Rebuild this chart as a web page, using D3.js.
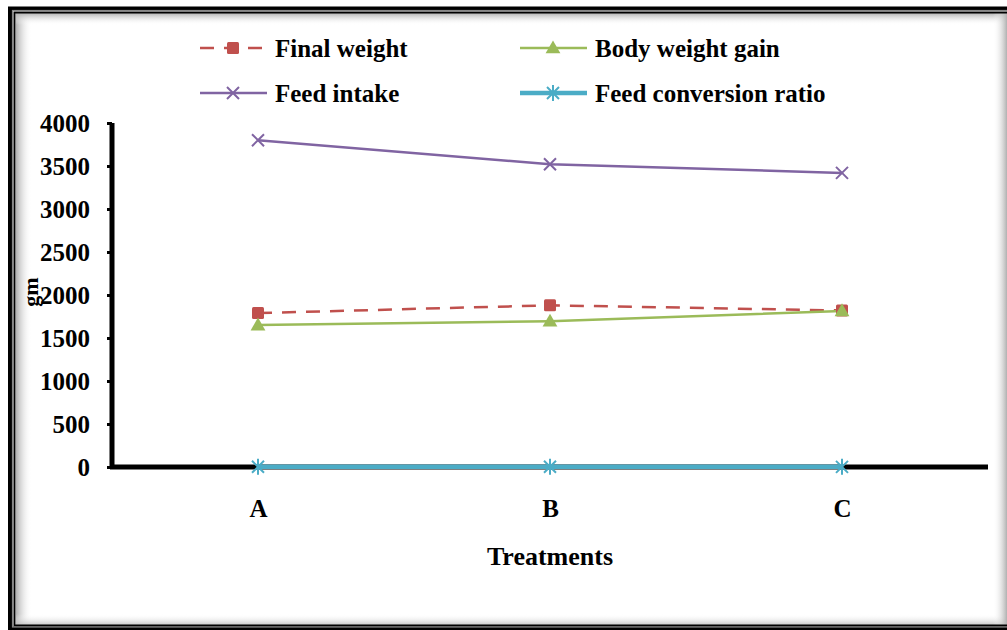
<!DOCTYPE html>
<html>
<head>
<meta charset="utf-8">
<script src="https://cdn.jsdelivr.net/npm/d3@7"></script>
<style>
  body { margin: 0; background: #fff; }
  text { font-family: "Liberation Serif", "Times New Roman", serif; font-weight: bold; fill: #000; }
</style>
</head>
<body>
<div class="chart"></div>
<script>
// treatment groups and the four measured series (gm)
var treatments = ["A", "B", "C"];
var finalWeight = [1790, 1880, 1820];
var bodyWeightGain = [1650, 1695, 1815];
var feedIntake = [3800, 3520, 3420];
var feedConversion = [2.2, 2.1, 1.9];
var yTicks = [0, 500, 1000, 1500, 2000, 2500, 3000, 3500, 4000];

var W = 1007, H = 630;

var svg = d3.select(".chart").append("svg")
  .attr("width", W)
  .attr("height", H);

var defs = svg.append("defs");
function shade(id, x1, y1, x2, y2) {
  var g = defs.append("linearGradient").attr("id", id)
    .attr("x1", x1).attr("y1", y1).attr("x2", x2).attr("y2", y2);
  g.append("stop").attr("offset", "0%").attr("stop-color", "#b0b0b0");
  g.append("stop").attr("offset", "100%").attr("stop-color", "#fff").attr("stop-opacity", 0);
}
shade("shL", 0, 0, 1, 0);
shade("shT", 0, 0, 0, 1);
shade("shB", 0, 1, 0, 0);
shade("shR", 1, 0, 0, 0);

// frame with soft inner shadow
svg.append("rect").attr("x", 16).attr("y", 13).attr("width", 16).attr("height", 612).attr("fill", "url(#shL)");
svg.append("rect").attr("x", 16).attr("y", 13).attr("width", 991).attr("height", 12).attr("fill", "url(#shT)");
svg.append("rect").attr("x", 16).attr("y", 614).attr("width", 991).attr("height", 13).attr("fill", "url(#shB)");
svg.append("rect").attr("x", 993).attr("y", 13).attr("width", 14).attr("height", 614).attr("fill", "url(#shR)");

svg.append("rect").attr("x", 10).attr("y", 8.5).attr("width", 1010).attr("height", 620)
  .attr("fill", "none").attr("stroke", "#000").attr("stroke-width", 4);
svg.append("rect").attr("x", 14.5).attr("y", 12.5).attr("width", 1010).attr("height", 613)
  .attr("fill", "none").attr("stroke", "#000").attr("stroke-width", 2);
svg.append("rect").attr("x", 12.5).attr("y", 10.5).attr("width", 1010).attr("height", 616.5)
  .attr("fill", "none").attr("stroke", "#888").attr("stroke-width", 1.2);

var x = d3.scalePoint().domain(treatments).range([112, 988]).padding(0.5);
var y = d3.scaleLinear().domain([0, 4000]).range([467, 123]);

// y axis
var yAxis = svg.append("g").attr("transform", "translate(112,0)")
  .call(d3.axisLeft(y).tickValues(yTicks).tickFormat(d3.format("d")).tickSize(5).tickPadding(17));
yAxis.select(".domain").attr("stroke-width", 5).attr("d", "M0,123V467");
yAxis.selectAll(".tick line").attr("stroke-width", 3);
yAxis.selectAll(".tick text").style("font-size", "25px").attr("dy", "0.35em");

// x axis
var xAxis = svg.append("g").attr("transform", "translate(0,467)")
  .call(d3.axisBottom(x).tickSize(0).tickPadding(32));
xAxis.select(".domain").attr("stroke-width", 5).attr("d", "M110,0H988");
xAxis.selectAll(".tick text").style("font-size", "25px");

svg.append("text").attr("x", 550).attr("y", 565).attr("text-anchor", "middle")
  .style("font-size", "26px").text("Treatments");
svg.append("text").attr("transform", "translate(38,292) rotate(-90)").attr("text-anchor", "middle")
  .style("font-size", "22px").text("gm");

// marker drawers
function square(g, cx, cy, c) {
  g.append("rect").attr("x", cx - 6).attr("y", cy - 6).attr("width", 12).attr("height", 12)
    .attr("rx", 1.5).attr("fill", c);
}
function triangle(g, cx, cy, c) {
  g.append("path").attr("d", d3.symbol(d3.symbolTriangle, 95)()).attr("transform", "translate(" + cx + "," + (cy + 1) + ")")
    .attr("fill", c);
}
function cross(g, cx, cy, c) {
  g.append("path").attr("d", "M-6,-6L6,6M-6,6L6,-6").attr("transform", "translate(" + cx + "," + cy + ")")
    .attr("stroke", c).attr("stroke-width", 2).attr("fill", "none");
}
function star(g, cx, cy, c) {
  g.append("path").attr("d", "M-6,-6L6,6M-6,6L6,-6M0,-8V8").attr("transform", "translate(" + cx + "," + cy + ")")
    .attr("stroke", c).attr("stroke-width", 2).attr("fill", "none");
}

var series = [
  {name: "Final weight", values: finalWeight, color: "#C0504D", width: 2.5, dash: "14,10", mark: square},
  {name: "Body weight gain", values: bodyWeightGain, color: "#9BBB59", width: 2.5, dash: null, mark: triangle},
  {name: "Feed intake", values: feedIntake, color: "#8064A2", width: 2.5, dash: null, mark: cross},
  {name: "Feed conversion ratio", values: feedConversion, color: "#4BACC6", width: 4.5, dash: null, mark: star}
];

var line = d3.line().x(function(d, i) { return x(treatments[i]); }).y(function(d) { return y(d); });

var plot = svg.append("g");
series.forEach(function(s) {
  plot.append("path").datum(s.values)
    .attr("d", line)
    .attr("fill", "none")
    .attr("stroke", s.color)
    .attr("stroke-width", s.width)
    .attr("stroke-dasharray", s.dash);
});
series.forEach(function(s) {
  s.values.forEach(function(v, i) { s.mark(plot, x(treatments[i]), y(v), s.color); });
});

// legend
var legend = svg.append("g");
series.forEach(function(s, i) {
  var lx = i % 2 === 0 ? 200 : 520;
  var ly = i < 2 ? 48 : 93;
  var g = legend.append("g");
  g.append("line").attr("x1", lx).attr("x2", lx + 67).attr("y1", ly).attr("y2", ly)
    .attr("stroke", s.color).attr("stroke-width", s.width)
    .attr("stroke-dasharray", s.dash ? "14,10" : null);
  s.mark(g, lx + 33, ly, s.color);
  g.append("text").attr("x", lx + 75).attr("y", ly).attr("dy", "0.35em")
    .style("font-size", "25px").text(s.name);
});
</script>
</body>
</html>
